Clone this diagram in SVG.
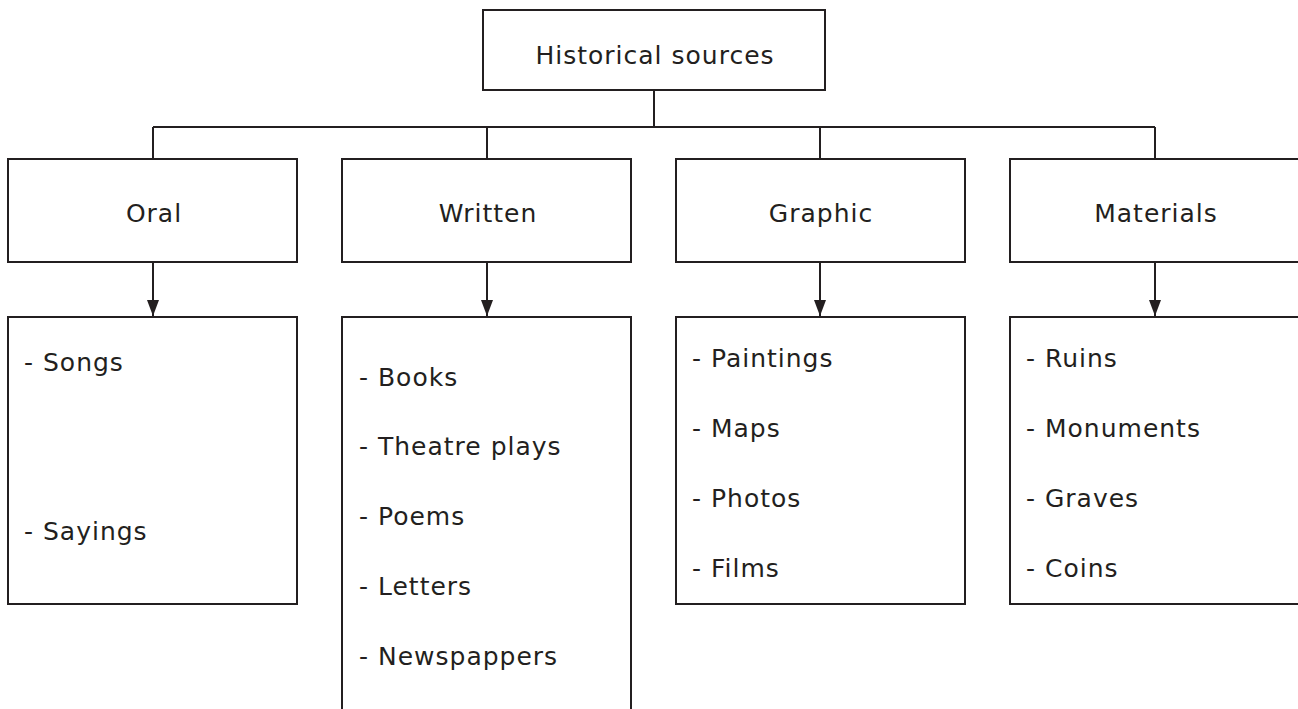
<svg xmlns="http://www.w3.org/2000/svg" width="1298" height="709" viewBox="0 0 1298 709">
<defs>
<marker id="arr" markerWidth="16" markerHeight="12" refX="16" refY="6" orient="auto" markerUnits="userSpaceOnUse">
<path d="M0,0 L16,6 L0,12 Z" fill="#231f20"/>
</marker>
<style>
.box{fill:#fff;stroke:#231f20;stroke-width:2}
.ln{fill:none;stroke:#231f20;stroke-width:2}
text{font-family:"Comic Sans MS","DejaVu Sans",sans-serif;font-size:25px;letter-spacing:1px;fill:#231f20}
.c{text-anchor:middle}
</style>
</defs>
<rect width="1298" height="709" fill="#fff"/>
<g id="connectors">
<path class="ln" d="M654,90 V127 M153,127 H1155 M153,127 V159 M487,127 V159 M820,127 V159 M1155,127 V159"/>
<path class="ln" d="M153,262 V316" marker-end="url(#arr)"/>
<path class="ln" d="M487,262 V316" marker-end="url(#arr)"/>
<path class="ln" d="M820,262 V316" marker-end="url(#arr)"/>
<path class="ln" d="M1155,262 V316" marker-end="url(#arr)"/>
</g>
<g id="root"><rect class="box" x="483" y="10" width="342" height="80"/><text class="c" x="655" y="64">Historical sources</text></g>
<g id="oral"><rect class="box" x="8" y="159" width="289" height="103"/><text class="c" x="154" y="222">Oral</text></g>
<g id="written"><rect class="box" x="342" y="159" width="289" height="103"/><text class="c" x="488" y="222">Written</text></g>
<g id="graphic"><rect class="box" x="676" y="159" width="289" height="103"/><text class="c" x="821" y="222">Graphic</text></g>
<g id="materials"><rect class="box" x="1010" y="159" width="289" height="103"/><text class="c" x="1156" y="222">Materials</text></g>
<g id="oral-list"><rect class="box" x="8" y="317" width="289" height="287"/>
<text x="24" y="371">- Songs</text><text x="24" y="540">- Sayings</text></g>
<g id="written-list"><rect class="box" x="342" y="317" width="289" height="410"/>
<text x="359" y="386">- Books</text><text x="359" y="455">- Theatre plays</text><text x="359" y="525">- Poems</text><text x="359" y="595">- Letters</text><text x="359" y="665">- Newspappers</text></g>
<g id="graphic-list"><rect class="box" x="676" y="317" width="289" height="287"/>
<text x="692" y="367">- Paintings</text><text x="692" y="437">- Maps</text><text x="692" y="507">- Photos</text><text x="692" y="577">- Films</text></g>
<g id="materials-list"><rect class="box" x="1010" y="317" width="289" height="287"/>
<text x="1026" y="367">- Ruins</text><text x="1026" y="437">- Monuments</text><text x="1026" y="507">- Graves</text><text x="1026" y="577">- Coins</text></g>
</svg>
